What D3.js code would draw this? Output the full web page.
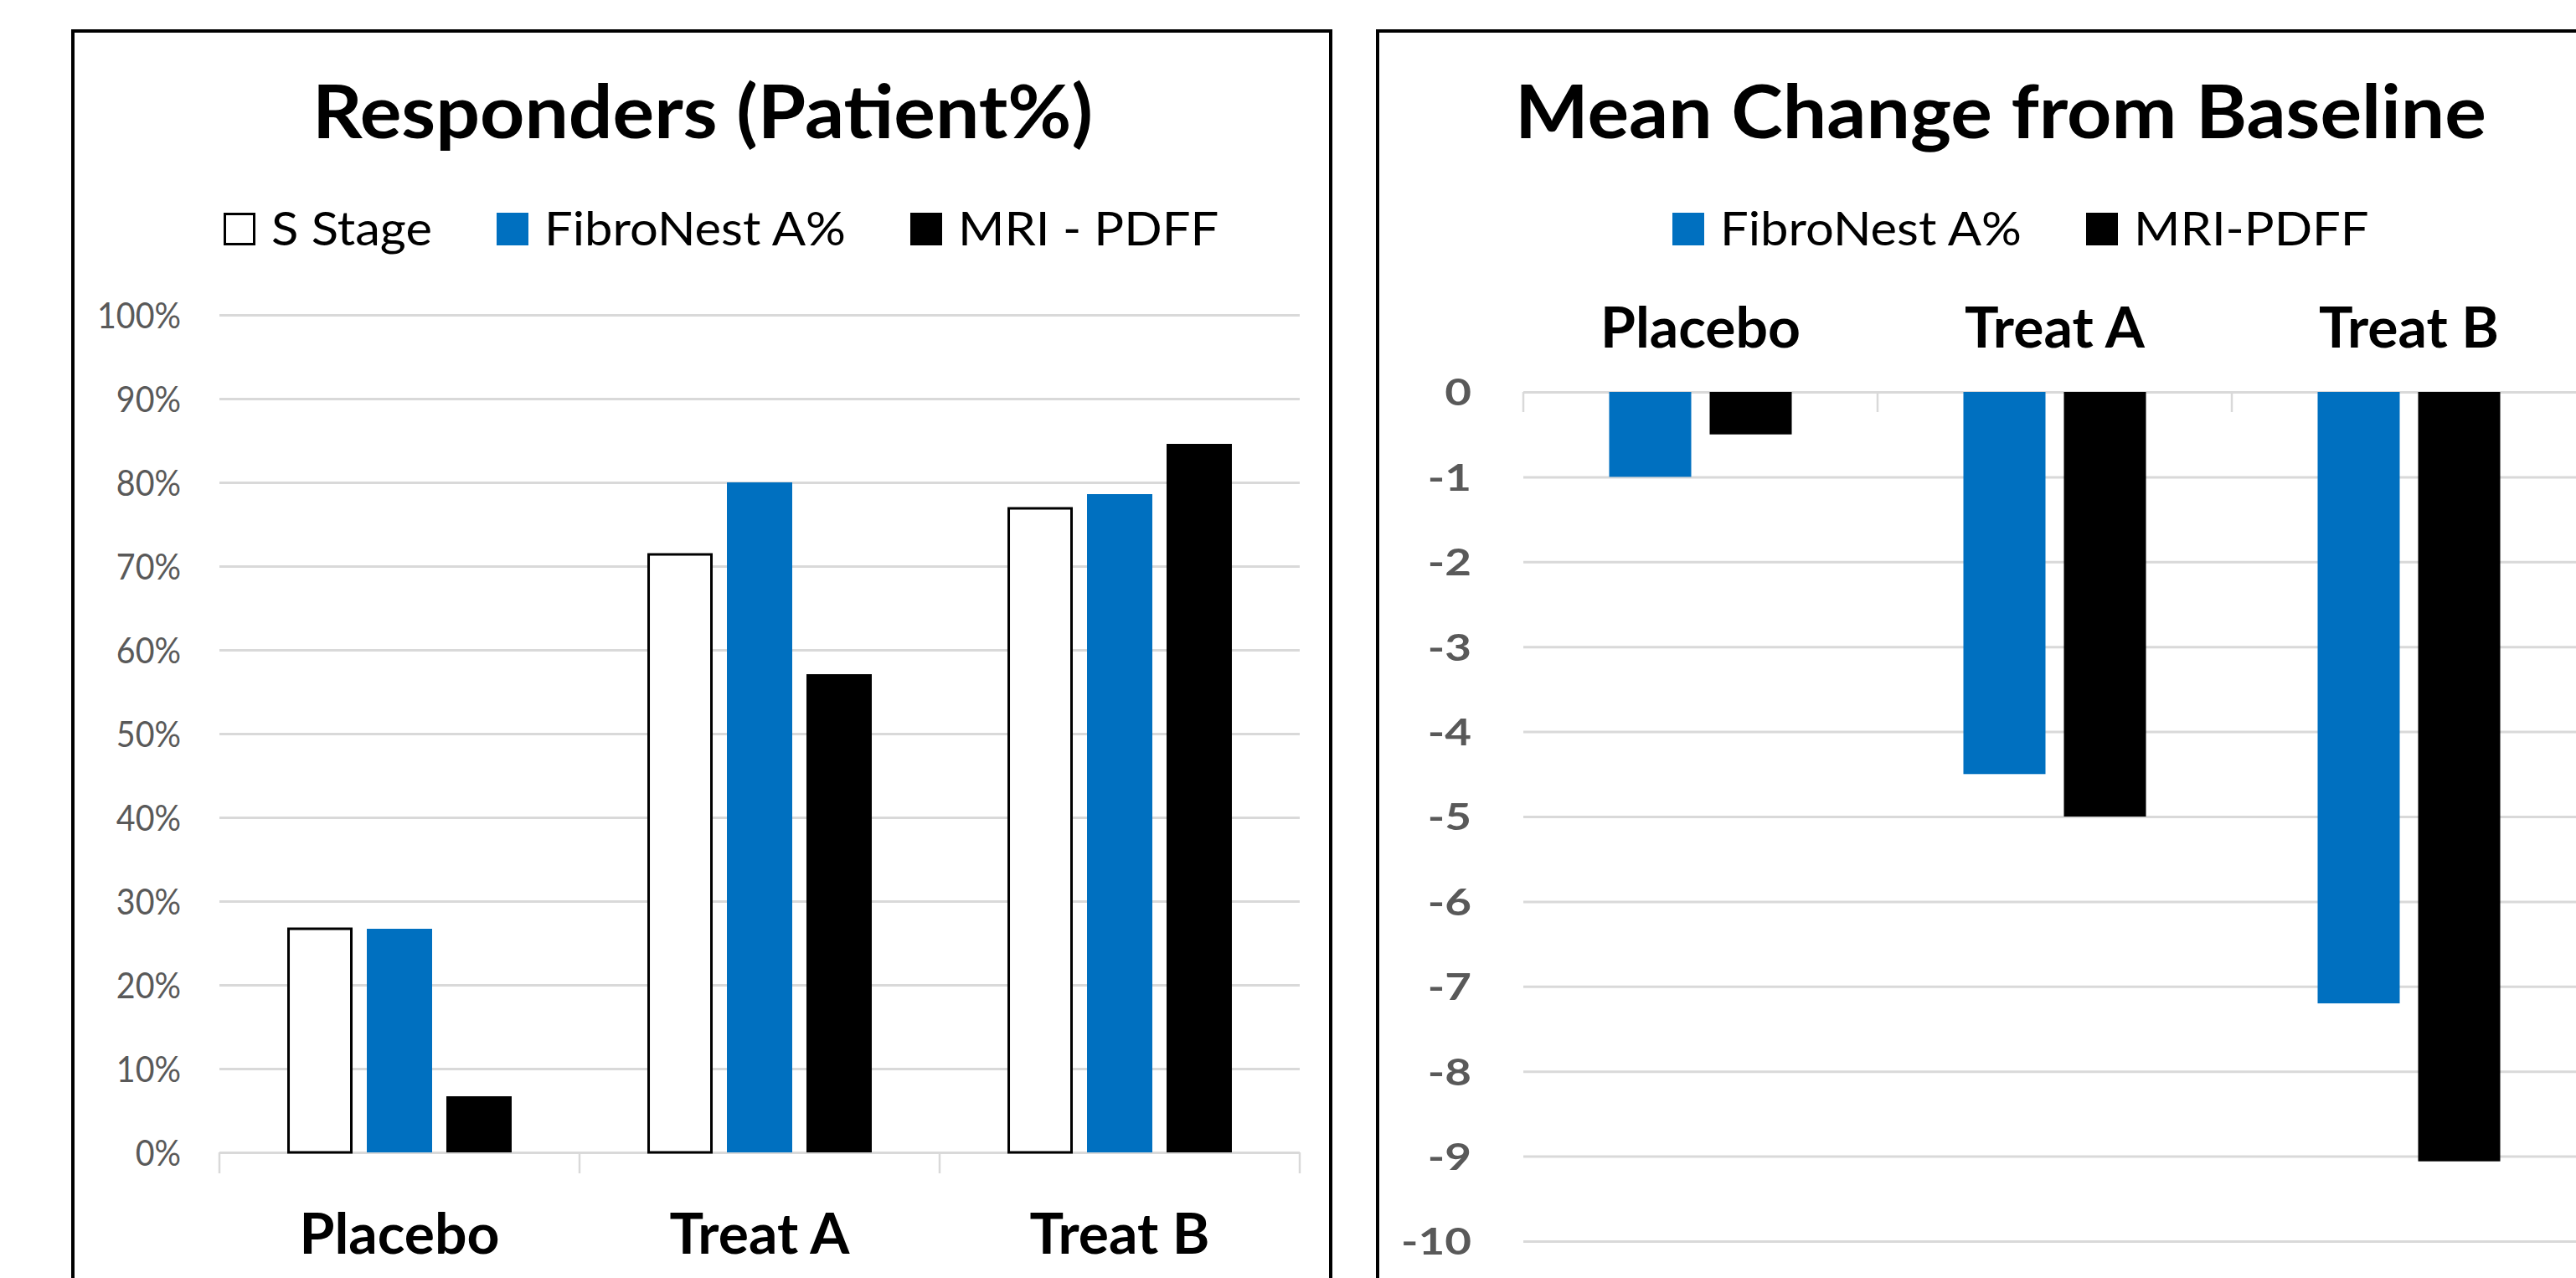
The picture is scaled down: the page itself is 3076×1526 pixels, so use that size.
<!DOCTYPE html>
<html>
<head>
<meta charset="utf-8">
<script src="https://cdn.jsdelivr.net/npm/d3@7"></script>
<style>
  html, body { margin: 0; padding: 0; background: #fff; overflow: hidden; }
  svg { display: block; }
</style>
</head>
<body>
<svg id="chart" width="3076" height="1526"></svg>
<script>
// ---- data ----
const categories = ["Placebo", "Treat A", "Treat B"];

const respSeries = ["S Stage", "FibroNest A%", "MRI - PDFF"];
const respSStage = [0.267, 0.714, 0.769];
const respFibro  = [0.267, 0.800, 0.786];
const respMRI    = [0.067, 0.571, 0.846];
const respTicks  = [0, 0.1, 0.2, 0.3, 0.4, 0.5, 0.6, 0.7, 0.8, 0.9, 1.0];

const chgSeries = ["FibroNest A%", "MRI-PDFF"];
const chgFibro  = [-1.0, -4.5, -7.2];
const chgMRI    = [-0.5, -5.0, -9.06];
const chgTicks  = [0, -1, -2, -3, -4, -5, -6, -7, -8, -9, -10];

// ---- styling ----
const FONT = "Lato, 'Open Sans', sans-serif";
const BLUE = "#0070C0";
const GRID = "#d9d9d9";
const AXIS_TXT = "#595959";

const svg = d3.select("#chart");

// Text styles; each narrows its glyphs by a factor derived from a sample string
const styles = {
  title:   { size: 88, weight: 700, sample: "Responders (Patient%)", width: 932 },
  legend:  { size: 56, weight: 400, sample: "FibroNest A%", width: 360 },
  cat:     { size: 67, weight: 700, sample: "Placebo", width: 239 },
  tickPct: { size: 42, weight: 400, sample: "100%", width: 100 },
  tickNum: { size: 44, weight: 700, sample: "-10", width: 84 }
};
Object.values(styles).forEach(s => {
  const t = svg.append("text")
    .attr("font-family", FONT).attr("font-size", s.size).attr("font-weight", s.weight)
    .text(s.sample);
  s.k = s.width / t.node().getComputedTextLength();
  t.remove();
});

function styledText(parent, style, txt) {
  const s = styles[style];
  const t = parent.append("text")
    .attr("font-family", FONT)
    .attr("font-size", s.size)
    .attr("font-weight", s.weight)
    .text(txt);
  const w = t.node().getComputedTextLength();
  t.attr("textLength", w * s.k).attr("lengthAdjust", "spacingAndGlyphs");
  return t;
}
function fitAxisText(sel, style) {
  const s = styles[style];
  sel.attr("font-family", FONT).attr("font-size", s.size).attr("font-weight", s.weight)
    .each(function () {
      const w = this.getComputedTextLength();
      d3.select(this).attr("textLength", w * s.k).attr("lengthAdjust", "spacingAndGlyphs");
    });
}

// ---- panel frames ----
svg.append("rect").attr("x", 87).attr("y", 37).attr("width", 1502).attr("height", 1540)
  .attr("fill", "#fff").attr("stroke", "#000").attr("stroke-width", 4);
svg.append("rect").attr("x", 1645).attr("y", 37).attr("width", 1502).attr("height", 1540)
  .attr("fill", "#fff").attr("stroke", "#000").attr("stroke-width", 4);

// ---- legend helper ----
function legend(parent, x0, items) {
  let x = x0;
  items.forEach(it => {
    if (it.hollow) {
      parent.append("rect").attr("x", x + 1.5).attr("y", 255.5).attr("width", 35).attr("height", 36)
        .attr("fill", "#fff").attr("stroke", "#000").attr("stroke-width", 3);
    } else {
      parent.append("rect").attr("x", x).attr("y", 254).attr("width", 38).attr("height", 39)
        .attr("fill", it.color);
    }
    const t = styledText(parent, "legend", it.label).attr("x", x + 57).attr("y", 293).attr("fill", "#000");
    x += 57 + (+t.attr("textLength")) + 77;
  });
}

// =====================================================
// Left panel: Responders (Patient%)
// =====================================================
const gL = svg.append("g");

styledText(gL, "title", "Responders (Patient%)")
  .attr("x", 839).attr("y", 165).attr("text-anchor", "middle").attr("fill", "#000");

legend(gL, 267, [
  { label: respSeries[0], hollow: true },
  { label: respSeries[1], color: BLUE },
  { label: respSeries[2], color: "#000" }
]);

const yR = d3.scaleLinear().domain([0, 1]).range([1376, 376]);
const xR = d3.scaleBand().domain(categories).range([262, 1552]);
const xRi = d3.scaleBand().domain(respSeries).range([0, xR.bandwidth()])
  .paddingInner(17 / 95).paddingOuter(0.853);

const axR = gL.append("g").attr("transform", "translate(262,0)")
  .call(d3.axisLeft(yR).tickValues(respTicks).tickSize(-(1552 - 262)).tickPadding(46)
    .tickFormat(d3.format(".0%")));
axR.select(".domain").remove();
axR.selectAll(".tick line").attr("stroke", GRID).attr("stroke-width", 3);
axR.selectAll(".tick text").attr("fill", AXIS_TXT).attr("dy", "0.36em");
fitAxisText(axR.selectAll(".tick text"), "tickPct");

// category separators under the baseline
const sepR = categories.map(c => xR(c)).concat([xR.range()[1]]);
gL.append("g").selectAll("line").data(sepR).join("line")
  .attr("x1", d => d).attr("x2", d => d)
  .attr("y1", yR(0)).attr("y2", yR(0) + 25)
  .attr("stroke", GRID).attr("stroke-width", 2.5);

const respRows = categories.map((c, i) => ({
  cat: c,
  vals: [
    { s: respSeries[0], v: respSStage[i] },
    { s: respSeries[1], v: respFibro[i] },
    { s: respSeries[2], v: respMRI[i] }
  ]
}));
const fillR = { [respSeries[0]]: "#fff", [respSeries[1]]: BLUE, [respSeries[2]]: "#000" };

gL.append("g").selectAll("g").data(respRows).join("g")
  .attr("transform", d => `translate(${xR(d.cat)},0)`)
  .selectAll("rect").data(d => d.vals).join("rect")
  .attr("x", d => xRi(d.s) + (d.s === respSeries[0] ? 1.5 : 0))
  .attr("width", d => xRi.bandwidth() - (d.s === respSeries[0] ? 3 : 0))
  .attr("y", d => yR(d.v))
  .attr("height", d => yR(0) - yR(d.v))
  .attr("fill", d => fillR[d.s])
  .attr("stroke", d => d.s === respSeries[0] ? "#000" : "none")
  .attr("stroke-width", 3);

categories.forEach(c => {
  styledText(gL, "cat", c)
    .attr("x", xR(c) + xR.bandwidth() / 2).attr("y", 1497)
    .attr("text-anchor", "middle").attr("fill", "#000");
});

// =====================================================
// Right panel: Mean Change from Baseline
// =====================================================
const gC = svg.append("g");

styledText(gC, "title", "Mean Change from Baseline")
  .attr("x", 2389).attr("y", 165).attr("text-anchor", "middle").attr("fill", "#000");

legend(gC, 1997, [
  { label: chgSeries[0], color: BLUE },
  { label: chgSeries[1], color: "#000" }
]);

const yC = d3.scaleLinear().domain([0, -10]).range([468, 1482]);
const xC = d3.scaleBand().domain(categories).range([1819, 1819 + 3 * 423]);
const xCi = d3.scaleBand().domain(chgSeries).range([0, xC.bandwidth()])
  .paddingInner(22 / 120).paddingOuter(0.854);

const axC = gC.append("g").attr("transform", "translate(1819,0)")
  .call(d3.axisLeft(yC).tickValues(chgTicks).tickSize(-(3 * 423)).tickPadding(62)
    .tickFormat(d => String(d)));
axC.select(".domain").remove();
axC.selectAll(".tick line").attr("stroke", GRID).attr("stroke-width", 3);
axC.selectAll(".tick text").attr("fill", AXIS_TXT).attr("dy", "0.36em");
fitAxisText(axC.selectAll(".tick text"), "tickNum");

const sepC = categories.map(c => xC(c)).concat([xC.range()[1]]);
gC.append("g").selectAll("line").data(sepC).join("line")
  .attr("x1", d => d).attr("x2", d => d)
  .attr("y1", yC(0)).attr("y2", yC(0) + 24)
  .attr("stroke", GRID).attr("stroke-width", 2.5);

const chgRows = categories.map((c, i) => ({
  cat: c,
  vals: [
    { s: chgSeries[0], v: chgFibro[i] },
    { s: chgSeries[1], v: chgMRI[i] }
  ]
}));
const fillC = { [chgSeries[0]]: BLUE, [chgSeries[1]]: "#000" };

gC.append("g").selectAll("g").data(chgRows).join("g")
  .attr("transform", d => `translate(${xC(d.cat)},0)`)
  .selectAll("rect").data(d => d.vals).join("rect")
  .attr("x", d => xCi(d.s))
  .attr("width", xCi.bandwidth())
  .attr("y", yC(0))
  .attr("height", d => yC(d.v) - yC(0))
  .attr("fill", d => fillC[d.s]);

categories.forEach(c => {
  styledText(gC, "cat", c)
    .attr("x", xC(c) + xC.bandwidth() / 2).attr("y", 415)
    .attr("text-anchor", "middle").attr("fill", "#000");
});
</script>
</body>
</html>
